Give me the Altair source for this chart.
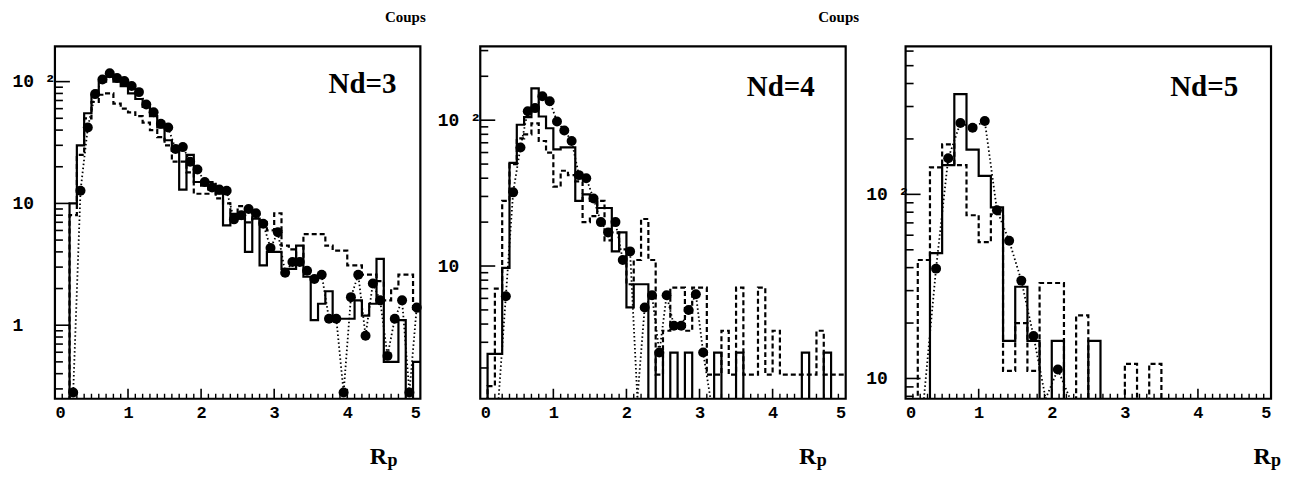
import altair as alt
import pandas as pd

W, H = 366, 353

# ---------------- axis values ----------------
X_LABELS = [0, 1, 2, 3, 4, 5]
X_MAJOR_TICKS = [1, 2, 3, 4]
X_MINOR_TICKS = [round(0.1 * i, 1) for i in range(1, 50) if i % 10 != 0]

# ---------------- Panel Nd=3 (bins of 0.1) ----------------
BW1 = 0.1
SOLID1 = [0, 0, 10, 30, 55, 78, 100, 110, 100, 92,
          80, 72, 62, 52, 42, 33, 27, 13, 25, 15,
          14, 13, 12, 6.6, 8.2, 7.5, 4.0, 7.5, 3.1, 4.0,
          4.0, 2.9, 2.9, 4.5, 2.5, 1.1, 1.5, 1.9, 1.13, 1.13,
          1.13, 1.6, 1.2, 1.5, 3.5, 0.5, 0.5, 1.1, 0, 0.5]
DASHED1 = [0, 0, 8, 25, 50, 68, 78, 80, 66, 60,
           56, 52, 46, 40, 35, 30, 22, 22, 18, 12,
           12, 15, 11, 10, 8, 9.5, 7, 8, 7, 6,
           8.3, 4.5, 4.2, 3.5, 5.6, 5.6, 5.6, 4.5, 4.1, 4.1,
           3.1, 3.1, 2.6, 2.6, 2.3, 1.6, 2.0, 2.6, 2.6, 1.3]
PTS_START1 = 0.25
POINTS1 = [0.28, 12.7, 42, 79, 104, 117, 107, 101, 92, 82,
           65, 56, 45, 42, 28, 29, 22, 19, 15, 13.5,
           13, 12.7, 7.4, 8.0, 9.0, 8.3, 6.8, 4.3, 5.8, 2.7,
           3.3, 3.3, 2.8, 2.4, 2.6, 1.13, 1.13, 0.28, 1.7, 2.6,
           0.82, 2.2, 1.6, 0.56, 1.13, 1.6, 0.28, 1.4]
YDOM1 = [0.249, 195]
YMAJOR1 = [1, 10, 100]
YMINOR1 = [0.3, 0.4, 0.5, 0.6, 0.7, 0.8, 0.9, 2, 3, 4, 5, 6, 7, 8, 9,
           20, 30, 40, 50, 60, 70, 80, 90]

# ---------------- Panel Nd=4 (bins of 0.1) ----------------
BW2 = 0.1
SOLID2 = [0, 2.5, 2.5, 9.7, 51, 93, 105, 165, 106, 88,
          63, 65, 65, 28, 31, 28, 25, 25, 12.6, 17,
          5.2, 7.5, 7.5, 0, 2.55, 0, 2.55, 0, 2.55, 0,
          0, 0, 2.55, 0, 0, 2.55, 0, 0, 0, 0,
          0, 0, 0, 0, 2.55, 0, 0, 2.55, 0, 0]
DASHED2 = [0, 1.5, 7, 28, 50, 75, 80, 95, 72, 60,
           35, 45, 42, 38, 20, 22, 28, 15, 17, 13,
           7.5, 11, 21, 11, 1.8, 3.6, 7.1, 7.1, 3.6, 7.1,
           7.1, 1.8, 1.8, 3.6, 1.8, 7.1, 1.8, 1.8, 7.1, 1.8,
           3.6, 1.8, 1.8, 1.8, 1.8, 1.8, 3.6, 1.8, 1.8, 1.8]
PTS_START2 = 0.25
POINTS2 = [0, 6.2, 32, 65, 115, 121, 146, 135, 98, 85,
           72, 42, 40, 29, 20, 17, 20, 11, 12.6, 0,
           5.2, 6.3, 2.55, 6.3, 3.9, 3.9, 5.0, 6.4, 2.55, 0]
YDOM2 = [1.23, 321]
YMAJOR2 = [10, 100]
YMINOR2 = [2, 3, 4, 5, 6, 7, 8, 9, 20, 30, 40, 50, 60, 70, 80, 90, 200, 300]

# ---------------- Panel Nd=5 (bins of 1/6) ----------------
BW3 = 1 / 6
SOLID3 = [0, 0, 48, 144, 350, 175, 126, 85, 16, 31.5,
          16, 0, 16, 0, 0, 16, 0, 0, 0, 0,
          0, 0, 0, 0, 0, 0, 0, 0, 0, 0]
DASHED3 = [0, 44, 140, 187, 144, 77, 55, 78, 11, 20,
           11, 33, 33, 0, 22, 0, 0, 0, 12, 0,
           12, 0, 0, 0, 0, 0, 0, 0, 0, 0]
PTS_START3 = 0.25
POINTS3 = [0, 39.5, 157, 244, 230, 250, 82, 56, 34, 17, 0, 11.2, 0]
YDOM3 = [7.76, 637]
YMAJOR3 = [10, 100]
YMINOR3 = [8, 9, 20, 30, 40, 50, 60, 70, 80, 90, 200, 300, 400, 500, 600]

PANELS = [
    dict(bw=BW1, solid=SOLID1, dashed=DASHED1, p0=PTS_START1, pts=POINTS1,
         ydom=YDOM1, ymaj=YMAJOR1, ymin=YMINOR1, lpad=43, label="Nd=3",
         lab_xy=(308, 38), coups=None, r_x=324),
    dict(bw=BW2, solid=SOLID2, dashed=DASHED2, p0=PTS_START2, pts=POINTS2,
         ydom=YDOM2, ymaj=YMAJOR2, ymin=YMINOR2, lpad=43, label="Nd=4",
         lab_xy=(301, 41), coups=(-75, -29), r_x=328),
    dict(bw=BW3, solid=SOLID3, dashed=DASHED3, p0=PTS_START3, pts=POINTS3,
         ydom=YDOM3, ymaj=YMAJOR3, ymin=YMINOR3, lpad=40, label="Nd=5",
         lab_xy=(299, 41), coups=(-67, -29), r_x=357),
]


def step_df(vals, bw, floor):
    xs = [i * bw for i in range(len(vals) + 1)]
    vs = [v if v > 0 else floor for v in vals]
    vs.append(vs[-1])
    return pd.DataFrame({"x": xs, "v": vs})


def text_layer(txt, x, y, size, font="Liberation Serif", weight="bold", align="center", baseline="middle"):
    return alt.Chart(pd.DataFrame({"t": [txt]})).mark_text(
        font=font, fontSize=size, fontWeight=weight, align=align,
        baseline=baseline, color="black"
    ).encode(text="t:N", x=alt.value(x), y=alt.value(y))


def make_panel(p):
    xsc = alt.Scale(domain=[0, 5], nice=False, zero=False)
    ysc = alt.Scale(type="log", domain=p["ydom"], nice=False)
    xax = alt.Axis(values=X_LABELS, title=None, ticks=False, domain=False,
                   grid=False, labelFont="Liberation Mono", labelFontWeight="bold",
                   labelFontSize=17, labelPadding=6, labelColor="black", format="d")
    yax = alt.Axis(values=p["ymaj"], title=None, ticks=False, domain=False,
                   grid=False, labelFont="Liberation Mono", labelFontWeight="bold",
                   labelFontSize=18, labelColor="black", labelAlign="left",
                   labelPadding=p["lpad"], labelBaseline="middle",
                   labelExpr="datum.value >= 100 ? '10 \u00b2' : (datum.value >= 10 ? '10' : ' 1')")

    def X(f):
        return alt.X(f"{f}:Q", scale=xsc, axis=xax)

    def Y(f):
        return alt.Y(f"{f}:Q", scale=ysc, axis=yax)

    floor_step = p["ydom"][0] / 100.0
    sdf = step_df(p["solid"], p["bw"], floor_step)
    ddf = step_df(p["dashed"], p["bw"], floor_step)
    centers = [p["p0"] + i * p["bw"] for i in range(len(p["pts"]))]
    pdf = pd.DataFrame({"x": centers, "v": p["pts"]})
    pdf["vl"] = [v if v > 0 else p["ydom"][0] for v in pdf["v"]]
    dots = pdf[pdf["v"] > 0]

    layers = []
    layers.append(alt.Chart(sdf).mark_line(interpolate="step-after", clip=True, color="black",
                                           strokeWidth=2.2).encode(x=X("x"), y=Y("v")))
    layers.append(alt.Chart(ddf).mark_line(interpolate="step-after", clip=True, color="black",
                                           strokeWidth=2.2, strokeDash=[5, 3]).encode(x=X("x"), y=Y("v")))
    layers.append(alt.Chart(pdf).mark_line(clip=True, color="black", strokeWidth=1.8,
                                           strokeDash=[1.5, 2.5]).encode(x=X("x"), y=Y("vl")))
    layers.append(alt.Chart(dots).mark_circle(size=100, opacity=1, color="black").encode(
        x=X("x"), y=Y("v")))
    # inward ticks
    layers.append(alt.Chart(pd.DataFrame({"t": p["ymaj"]})).mark_rule(color="black", strokeWidth=1.6)
                  .encode(y=Y("t"), x=alt.value(0), x2=alt.value(15)))
    layers.append(alt.Chart(pd.DataFrame({"t": p["ymin"]})).mark_rule(color="black", strokeWidth=1.6)
                  .encode(y=Y("t"), x=alt.value(0), x2=alt.value(8)))
    layers.append(alt.Chart(pd.DataFrame({"t": X_MAJOR_TICKS})).mark_rule(color="black", strokeWidth=1.6)
                  .encode(x=X("t"), y=alt.value(H), y2=alt.value(H - 10)))
    layers.append(alt.Chart(pd.DataFrame({"t": X_MINOR_TICKS})).mark_rule(color="black", strokeWidth=1.4)
                  .encode(x=X("t"), y=alt.value(H), y2=alt.value(H - 5)))
    # texts
    lx, ly = p["lab_xy"]
    layers.append(text_layer(p["label"], lx, ly, 29))
    if p["coups"] is not None:
        cx, cy = p["coups"]
        layers.append(text_layer("Coups", cx, cy, 15))
    layers.append(text_layer("R", p["r_x"], 418, 24, baseline="alphabetic"))
    layers.append(text_layer("p", p["r_x"] + 14, 420, 18, baseline="alphabetic"))
    return alt.layer(*layers).properties(width=W, height=H)


chart = alt.hconcat(*[make_panel(p) for p in PANELS], spacing=60, bounds="flush").resolve_scale(
    x="independent", y="independent"
).properties(
    padding={"left": 2, "top": 0, "right": 5, "bottom": 0},
    background="white",
).configure_view(stroke="black", strokeWidth=2.2)

chart.save("out.html", embed_options={"renderer": "svg", "actions": False})
